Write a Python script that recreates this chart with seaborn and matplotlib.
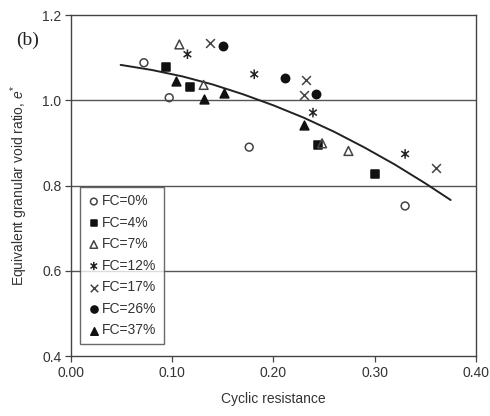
import numpy as np
import pandas as pd
import matplotlib
matplotlib.use('Agg')
import matplotlib.pyplot as plt
from matplotlib.path import Path
import seaborn as sns

# values
fc0_x = [0.072, 0.097, 0.176, 0.330]
fc0_y = [1.088, 1.006, 0.890, 0.752]
fc4_x = [0.094, 0.118, 0.244, 0.300]
fc4_y = [1.077, 1.032, 0.895, 0.827]
fc7_x = [0.107, 0.131, 0.248, 0.274]
fc7_y = [1.131, 1.036, 0.899, 0.881]
fc12_x = [0.115, 0.181, 0.239, 0.330]
fc12_y = [1.108, 1.061, 0.971, 0.874]
fc17_x = [0.137, 0.232, 0.230, 0.361]
fc17_y = [1.135, 1.047, 1.012, 0.840]
fc26_x = [0.150, 0.211, 0.242]
fc26_y = [1.127, 1.052, 1.015]
fc37_x = [0.104, 0.131, 0.151, 0.230]
fc37_y = [1.046, 1.004, 1.018, 0.942]

# trend line
trend_x = [0.049, 0.080, 0.110, 0.140, 0.170, 0.200, 0.230, 0.260, 0.290, 0.320, 0.350, 0.375]
trend_y = [1.083, 1.071, 1.056, 1.037, 1.014, 0.988, 0.959, 0.926, 0.889, 0.849, 0.805, 0.766]

labels = ['FC=0%', 'FC=4%', 'FC=7%', 'FC=12%', 'FC=17%', 'FC=26%', 'FC=37%']
xticks = [0.0, 0.1, 0.2, 0.3, 0.4]
xticklabels = ['0.00', '0.10', '0.20', '0.30', '0.40']
yticks = [0.4, 0.6, 0.8, 1.0, 1.2]
yticklabels = ['0.4', '0.6', '0.8', '1.0', '1.2']

sns.set_style('white')
plt.rcParams['font.family'] = ['Liberation Sans', 'DejaVu Sans']
plt.rcParams['mathtext.fontset'] = 'custom'
plt.rcParams['mathtext.it'] = 'Liberation Sans:italic'
plt.rcParams['mathtext.rm'] = 'Liberation Sans'

# asterisk marker: vertical bar plus an x
star = Path([(0, -1), (0, 1), (-0.8, -0.6), (0.8, 0.6), (-0.8, 0.6), (0.8, -0.6)],
            [Path.MOVETO, Path.LINETO, Path.MOVETO, Path.LINETO, Path.MOVETO, Path.LINETO])

series = [
    (fc0_x, fc0_y, 'o', 'none', '#444444', 32),
    (fc4_x, fc4_y, 's', '#111111', '#111111', 34),
    (fc7_x, fc7_y, '^', 'none', '#444444', 40),
    (fc12_x, fc12_y, star, 'none', '#222222', 48),
    (fc17_x, fc17_y, 'x', '#444444', '#444444', 40),
    (fc26_x, fc26_y, 'o', '#111111', '#111111', 36),
    (fc37_x, fc37_y, '^', '#111111', '#111111', 40),
]

fig = plt.figure(figsize=(4.9, 4.16), dpi=100)
ax = fig.add_axes([0.1449, 0.1442, 0.8265, 0.8197])

for (xs, ys, mk, fcol, ecol, size), lab in zip(series, labels):
    df = pd.DataFrame({'x': xs, 'y': ys})
    sns.scatterplot(data=df, x='x', y='y', marker=mk, s=size, color=ecol,
                    facecolor=fcol, edgecolor=ecol, linewidth=1.1,
                    label=lab, ax=ax, zorder=3)

trend = pd.DataFrame({'x': trend_x, 'y': trend_y})
sns.lineplot(data=trend, x='x', y='y', color='#222222', linewidth=1.4,
             sort=False, ax=ax, zorder=2)

ax.set_xlim(0, 0.4)
ax.set_ylim(0.4, 1.2)
ax.set_xticks(xticks)
ax.set_xticklabels(xticklabels)
ax.set_yticks(yticks)
ax.set_yticklabels(yticklabels)
ax.tick_params(axis='both', direction='out', length=4, width=0.9, color='#444444',
               labelsize=10, labelcolor='#333333', bottom=True, left=True, pad=3)
for y in [0.6, 0.8, 1.0]:
    ax.axhline(y, color='#555555', linewidth=1.0, zorder=1)
for sp in ax.spines.values():
    sp.set_color('#444444')
    sp.set_linewidth(1.0)

ax.set_xlabel('Cyclic resistance', fontsize=10, color='#333333', labelpad=9)
ax.set_ylabel(r'Equivalent granular void ratio, $e^{*}$', fontsize=10, color='#333333',
              labelpad=9)
fig.text(0.056, 0.904, '(b)', family='Liberation Serif', fontsize=14,
         ha='center', va='center', color='#222222')

leg = ax.legend(loc='upper left', bbox_to_anchor=(0.022, 0.495), frameon=True,
                fancybox=False, edgecolor='#444444', fontsize=10,
                handletextpad=0.1, handlelength=1.0, labelspacing=0.54,
                borderpad=0.5, markerscale=0.85, borderaxespad=0)
leg.get_frame().set_linewidth(1.0)
for t in leg.get_texts():
    t.set_color('#333333')

fig.savefig('out.png', dpi=100)
